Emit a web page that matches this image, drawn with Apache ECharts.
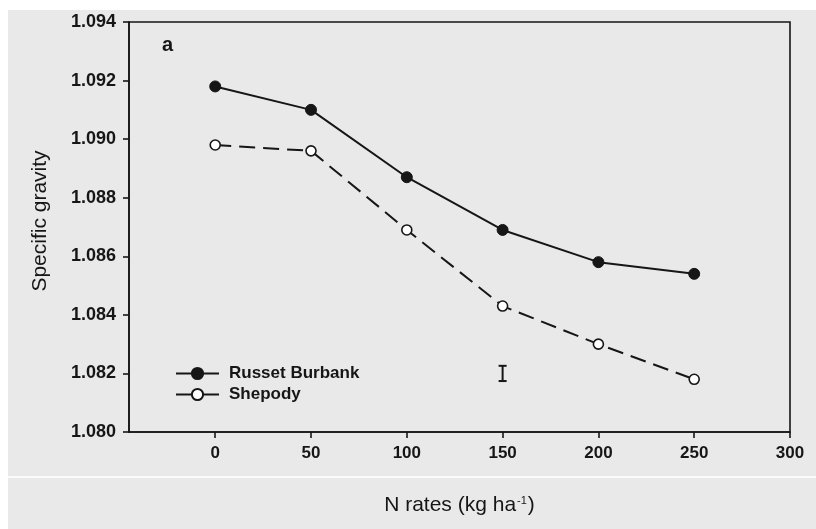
<!DOCTYPE html>
<html>
<head>
<meta charset="utf-8">
<script src="https://cdn.jsdelivr.net/npm/echarts@6/dist/echarts.min.js"></script>
<style>
  html, body { margin: 0; padding: 0; background: #ffffff; }
  #chart { width: 816px; height: 529px; }
</style>
</head>
<body>
<div id="chart"></div>
<script>
// N application rates (kg ha-1)
const nRates = [0, 50, 100, 150, 200, 250];
// Tuber specific gravity by cultivar
const russetBurbank = [1.0918, 1.0910, 1.0887, 1.0869, 1.0858, 1.0854];
const shepody = [1.0898, 1.0896, 1.0869, 1.0843, 1.0830, 1.0818];
// LSD bar: [x, centre, half length]
const lsdBar = [[150, 1.0820, 0.00026]];
// Axis tick values
const xTicks = [0, 50, 100, 150, 200, 250, 300];
const yTicks = [1.080, 1.082, 1.084, 1.086, 1.088, 1.090, 1.092, 1.094];

const FONT = '"Liberation Sans", Arial, sans-serif';
const INK = '#161616';

const chart = echarts.init(document.getElementById('chart'), null, { renderer: 'canvas' });

const option = {
  backgroundColor: '#ffffff',
  animation: false,
  graphic: [
    { type: 'rect', z: -10, shape: { x: 8, y: 10, width: 808, height: 519 }, style: { fill: '#e9e9e9' }, silent: true },
    { type: 'rect', z: -9, shape: { x: 8, y: 476, width: 808, height: 2 }, style: { fill: '#fbfbfb' }, silent: true },
    { type: 'text', left: 162, top: 35, style: { text: 'a', font: 'bold 20px ' + FONT, fill: INK } },
    {
      type: 'text', x: 40, y: 221, rotation: Math.PI / 2,
      style: { text: 'Specific gravity', font: '21px ' + FONT, fill: INK, align: 'center', verticalAlign: 'middle' }
    }
  ],
  grid: {
    left: 129, right: 26, top: 22, bottom: 97,
    show: true, borderColor: INK, borderWidth: 1.6, backgroundColor: 'transparent'
  },
  legend: {
    left: 175, top: 365, orient: 'vertical', padding: 0,
    itemWidth: 43, itemHeight: 14, itemGap: 4,
    textStyle: { fontFamily: FONT, fontSize: 17, fontWeight: 'bold', color: INK, padding: [0, 0, 0, 5] },
    data: [
      { name: 'Russet Burbank', lineStyle: { type: 'solid' } },
      { name: 'Shepody', lineStyle: { type: 'solid' } }
    ]
  },
  xAxis: {
    type: 'value', min: -45, max: 300,
    name: '{a|N rates (kg ha}{s|-1}{a|)}',
    nameLocation: 'middle', nameGap: 63,
    nameTextStyle: {
      rich: {
        a: { fontFamily: FONT, fontSize: 21, color: INK, fontWeight: 'normal' },
        s: { fontFamily: FONT, fontSize: 11, color: INK, verticalAlign: 'top', padding: [0, 1, 10, 1] }
      }
    },
    axisLine: { show: true, onZero: false, lineStyle: { color: INK, width: 1.6 } },
    axisTick: { show: true, inside: false, length: 6, customValues: xTicks, lineStyle: { color: INK, width: 1.6 } },
    axisLabel: { customValues: xTicks, margin: 13, fontFamily: FONT, fontSize: 17, fontWeight: 'bold', color: INK },
    splitLine: { show: false }
  },
  yAxis: {
    type: 'value', min: 1.080, max: 1.094, interval: 0.002,
    axisLine: { show: true, onZero: false, lineStyle: { color: INK, width: 1.6 } },
    axisTick: { show: true, inside: false, length: 6, customValues: yTicks, lineStyle: { color: INK, width: 1.6 } },
    axisLabel: {
      customValues: yTicks, margin: 13, fontFamily: FONT, fontSize: 18, fontWeight: 'bold', color: INK,
      formatter: v => v.toFixed(3)
    },
    splitLine: { show: false }
  },
  series: [
    {
      name: 'Russet Burbank', type: 'line',
      data: nRates.map((x, i) => [x, russetBurbank[i]]),
      symbol: 'circle', symbolSize: 11,
      lineStyle: { color: INK, width: 2 },
      itemStyle: { color: INK, borderColor: INK, borderWidth: 1 },
      z: 3
    },
    {
      name: 'Shepody', type: 'line',
      data: nRates.map((x, i) => [x, shepody[i]]),
      symbol: 'circle', symbolSize: 10,
      lineStyle: { color: INK, width: 2, type: [16, 8] },
      itemStyle: { color: '#ffffff', borderColor: INK, borderWidth: 1.6 },
      z: 3
    },
    {
      name: 'LSD', type: 'custom',
      data: lsdBar,
      renderItem: function (params, api) {
        const x = api.value(0), c = api.value(1), h = api.value(2);
        const top = api.coord([x, c + h]);
        const bot = api.coord([x, c - h]);
        const cap = 4;
        const st = { stroke: INK, lineWidth: 2 };
        return {
          type: 'group',
          children: [
            { type: 'line', shape: { x1: top[0], y1: top[1], x2: bot[0], y2: bot[1] }, style: st },
            { type: 'line', shape: { x1: top[0] - cap, y1: top[1], x2: top[0] + cap, y2: top[1] }, style: st },
            { type: 'line', shape: { x1: bot[0] - cap, y1: bot[1], x2: bot[0] + cap, y2: bot[1] }, style: st }
          ]
        };
      },
      silent: true
    }
  ]
};

chart.setOption(option);
</script>
</body>
</html>
